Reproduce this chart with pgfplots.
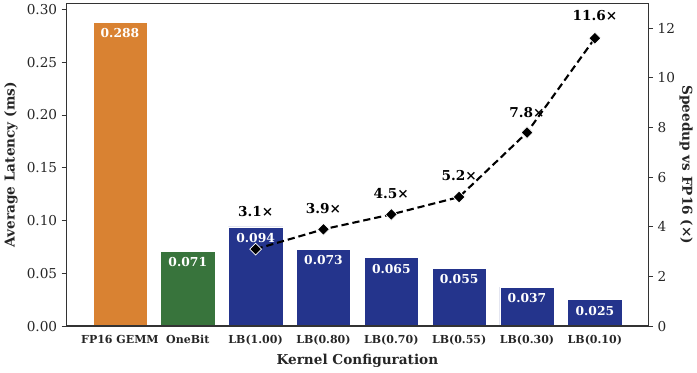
\documentclass[border=0pt]{standalone}
\usepackage{fontspec}
\setmainfont{DejaVu Serif}
\usepackage{pgfplots}
\pgfplotsset{compat=1.18}

\definecolor{cfp}{RGB}{217,130,50}
\definecolor{cone}{RGB}{56,116,60}
\definecolor{clb}{RGB}{36,52,140}
\definecolor{spine}{RGB}{51,51,51}

\pgfplotsset{
  common/.style={
    scale only axis,
    width=444pt, height=246pt,
    xmin=-0.79, xmax=7.79,
    axis line style={spine, line width=1pt},
    tick style={spine, line width=0.8pt},
    major tick length=3.5pt,
    tick align=outside,
    tick label style={font=\fontsize{10.4}{12}\selectfont, text=black!85},
    label style={font=\bfseries\fontsize{10.4}{12}\selectfont, text=black!85},
    /pgf/number format/assume math mode=true,
  },
}

\begin{document}
\begin{tikzpicture}
\begin{axis}[
  common,
  axis on top,
  ymin=0, ymax=0.3057,
  ytick={0,0.05,...,0.30},
  yticklabel style={/pgf/number format/fixed, /pgf/number format/fixed zerofill, /pgf/number format/precision=2},
  scaled y ticks=false,
  ytick pos=left,
  xtick={0,...,7},
  xticklabels={FP16 GEMM, OneBit, LB(1.00), LB(0.80), LB(0.70), LB(0.55), LB(0.30), LB(0.10)},
  x tick label style={font=\bfseries\fontsize{8.4}{10}\selectfont},
  xtick style={draw=none},
  xtick pos=bottom,
  xlabel={Kernel Configuration},
  ylabel={Average Latency (ms)},
  ybar, bar width=0.8, bar shift=0pt,
  point meta=explicit symbolic,
  nodes near coords,
  every node near coord/.append style={anchor=north, yshift=-1.5pt, text=white, font=\bfseries\fontsize{9.4}{10}\selectfont},
]
\addplot[fill=cfp, draw=white, line width=0.4pt] coordinates {(0,0.288)[0.288]};
\addplot[fill=cone, draw=white, line width=0.4pt] coordinates {(1,0.071)[0.071]};
\addplot[fill=clb, draw=white, line width=0.4pt] coordinates {
  (2,0.094)[0.094] (3,0.073)[0.073] (4,0.065)[0.065]
  (5,0.055)[0.055] (6,0.037)[0.037] (7,0.025)[0.025]
};
\end{axis}
\begin{axis}[
  common,
  ymin=0, ymax=13.0,
  ytick={0,2,...,12},
  axis x line=none,
  axis y line*=right,
  ylabel={Speedup vs FP16 (×)},
  ylabel style={rotate=180},
  ylabel shift=-3.5pt,
]
\addplot[black, line width=1.6pt, dash pattern=on 5.5pt off 3pt,
  mark=square*, mark size=3.2pt,
  mark options={solid, rotate=45, fill=black, draw=white, line width=0.5pt}]
  coordinates {(2,3.1) (3,3.9) (4,4.5) (5,5.2) (6,7.8) (7,11.6)};
\addplot[draw=none, mark=none, point meta=explicit symbolic, nodes near coords,
  every node near coord/.append style={anchor=center, font=\bfseries\fontsize{10.4}{12}\selectfont, text=black}]
  coordinates {(2,4.6)[3.1×] (3,4.75)[3.9×] (4,5.35)[4.5×] (5,6.05)[5.2×] (6,8.6)[7.8×] (7,12.5)[11.6×]};
\end{axis}
\end{tikzpicture}
\end{document}
